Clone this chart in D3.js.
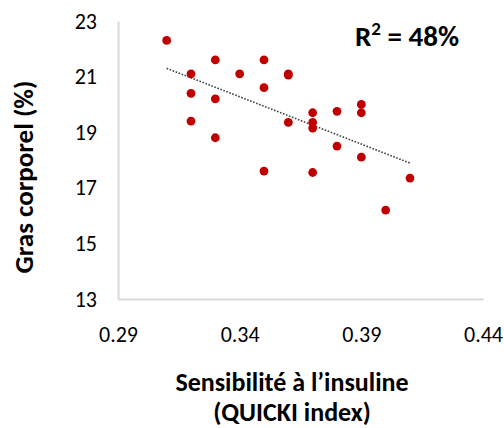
<!DOCTYPE html>
<html>
<head>
<meta charset="utf-8">
<script src="https://cdn.jsdelivr.net/npm/d3@7"></script>
<style>
  body { margin: 0; background: #fff; }
  svg text { font-family: Carlito, Calibri, Lato, "Open Sans", sans-serif; fill: #000; }
</style>
</head>
<body>
<div id="chart"></div>
<script>
// QUICKI index (x) vs body fat % (y)
const quicki = [0.31, 0.32, 0.32, 0.32, 0.33, 0.33, 0.33, 0.34, 0.35, 0.35, 0.35,
                0.36, 0.36, 0.36, 0.37, 0.37, 0.37, 0.37, 0.38, 0.38, 0.39, 0.39, 0.39,
                0.40, 0.41]
const grasCorporel = [22.3, 21.1, 20.4, 19.4, 21.6, 20.2, 18.8, 21.1, 21.6, 20.6, 17.6,
                      21.1, 21.05, 19.35, 19.7, 19.35, 19.15, 17.55, 19.75, 18.5, 20.0, 19.7, 18.1,
                      16.2, 17.35]
const xTicks = [0.29, 0.34, 0.39, 0.44]
const yTicks = [13, 15, 17, 19, 21, 23]
const xTitle = ["Sensibilité à l’insuline", "(QUICKI index)"]
const yTitle = "Gras corporel (%)"
const r2Label = "48%"

const width = 504, height = 428
const margin = {top: 21, right: 21, bottom: 129, left: 118}

const svg = d3.select("#chart").append("svg")
    .attr("width", width)
    .attr("height", height)

const x = d3.scaleLinear().domain([0.29, 0.44]).range([margin.left, width - margin.right])
const y = d3.scaleLinear().domain([13, 23]).range([height - margin.bottom, margin.top])

// axes: light grey lines, no tick marks
const xAxis = svg.append("g")
    .attr("transform", `translate(0,${height - margin.bottom})`)
    .call(d3.axisBottom(x).tickValues(xTicks).tickFormat(d3.format(".2f")).tickSize(0).tickPadding(27))
const yAxis = svg.append("g")
    .attr("transform", `translate(${margin.left},0)`)
    .call(d3.axisLeft(y).tickValues(yTicks).tickFormat(d3.format("d")).tickSize(0).tickPadding(21))

for (let g of [xAxis, yAxis]) {
    g.select(".domain").attr("stroke", "#d9d9d9").attr("stroke-width", 2)
    g.selectAll("text").style("font-size", "22px").attr("fill", "#000")
}

// trend line (least squares)
const pts = quicki.map((q, i) => [q, grasCorporel[i]])
const mx = d3.mean(quicki), my = d3.mean(grasCorporel)
const slope = d3.sum(pts, d => (d[0] - mx) * (d[1] - my)) / d3.sum(pts, d => (d[0] - mx) ** 2)
const icpt = my - slope * mx
const xExt = d3.extent(quicki)
const line = d3.line().x(d => x(d)).y(d => y(icpt + slope * d))

svg.append("path")
    .attr("d", line(xExt))
    .attr("fill", "none")
    .attr("stroke", "#404040")
    .attr("stroke-width", 1.6)
    .attr("stroke-dasharray", "1.6,1.6")

// points
svg.append("g")
    .attr("fill", "#c00000")
  .selectAll("circle")
  .data(pts)
  .enter().append("circle")
    .attr("cx", d => x(d[0]))
    .attr("cy", d => y(d[1]))
    .attr("r", 4.4)

// R² label
const r2 = svg.append("text")
    .attr("x", 355).attr("y", 46)
    .style("font-size", "29px").style("font-weight", "bold")
r2.append("tspan").text("R")
r2.append("tspan").text("2").style("font-size", "19px").attr("dy", -11)
r2.append("tspan").text(" = " + r2Label).attr("dy", 11)

// axis titles
svg.append("text")
    .attr("text-anchor", "middle")
    .attr("transform", `translate(33,177) rotate(-90)`)
    .style("font-size", "27px").style("font-weight", "bold")
    .text(yTitle)

svg.selectAll(".xtitle")
  .data(xTitle)
  .enter().append("text")
    .attr("class", "xtitle")
    .attr("text-anchor", "middle")
    .attr("x", 292)
    .attr("y", (d, i) => 391 + i * 30)
    .style("font-size", "26px").style("font-weight", "bold")
    .text(d => d)
</script>
</body>
</html>
